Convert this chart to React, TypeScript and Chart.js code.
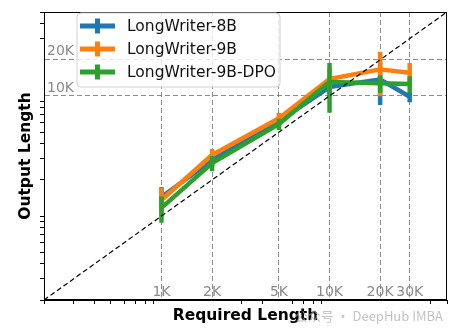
import React, { useEffect, useRef } from 'react';
import { Chart, registerables } from 'chart.js';

Chart.register(...registerables);

// ---------- data ----------
const requiredLengths = [1000, 2000, 5000, 10000, 20000, 30000];
const seriesNames = ['LongWriter-8B', 'LongWriter-9B', 'LongWriter-9B-DPO'];
const seriesColors = ['#1f77b4', '#ff7f0e', '#2ca02c'];

const lw8bMean = [1440, 2925, 6170, 11860, 13740, 9850];
const lw8bErr = [300, 350, 650, 2000, 5340, 1000];
const lw9bMean = [1360, 3220, 6530, 13830, 16640, 15600];
const lw9bErr = [350, 400, 700, 3000, 6700, 3200];
const lw9bDpoMean = [1170, 2760, 5830, 13050, 12730, 12570];
const lw9bDpoErr = [290, 400, 630, 5800, 2100, 2000];

const axisMin = 200;
const axisMax = 50000;
const diagonal = [200, 50000];

const xTickValues = [1000, 2000, 5000, 10000, 20000, 30000];
const xTickLabels = ['1K', '2K', '5K', '10K', '20K', '30K'];
const yTickValues = [10000, 20000];
const yTickLabels = ['10K', '20K'];
const minorTickValues = [
  200, 300, 400, 500, 600, 700, 800, 900,
  1000, 2000, 3000, 4000, 5000, 6000, 7000, 8000, 9000,
  10000, 20000, 30000, 40000, 50000,
];

const watermark = '公众号 · DeepHub IMBA';

// ---------- helpers ----------
function buildTicks(majors: number[]) {
  const set = new Set<number>([...minorTickValues, ...majors]);
  return Array.from(set).sort((a, b) => a - b).map((v) => ({ value: v }));
}

const GRID = 'rgba(120,120,120,0.85)';
const TICKTEXT = '#8a8a8a';

const errorBarPlugin = {
  id: 'errorBars',
  afterDatasetDraw(chart: any, args: any) {
    const ds = chart.data.datasets[args.index];
    if (!ds.errors) return;
    const { ctx, chartArea } = chart;
    const xs = chart.scales.x;
    const ys = chart.scales.y;
    ctx.save();
    ctx.beginPath();
    ctx.rect(chartArea.left, chartArea.top, chartArea.right - chartArea.left, chartArea.bottom - chartArea.top);
    ctx.clip();
    ctx.strokeStyle = ds.borderColor;
    ctx.lineWidth = 4.5;
    ctx.lineCap = 'butt';
    ds.data.forEach((p: any, i: number) => {
      const e = ds.errors[i];
      const px = xs.getPixelForValue(p.x);
      const top = ys.getPixelForValue(p.y + e);
      const bot = ys.getPixelForValue(Math.max(p.y - e, 1));
      ctx.beginPath();
      ctx.moveTo(px, top);
      ctx.lineTo(px, bot);
      ctx.stroke();
    });
    ctx.restore();
  },
};

const decorPlugin = {
  id: 'decor',
  afterDraw(chart: any) {
    const { ctx, chartArea } = chart;
    ctx.save();
    // spines
    ctx.strokeStyle = '#000';
    ctx.lineWidth = 1;
    ctx.strokeRect(
      Math.round(chartArea.left) + 0.5,
      Math.round(chartArea.top) + 0.5,
      Math.round(chartArea.right - chartArea.left) - 1,
      Math.round(chartArea.bottom - chartArea.top) - 1
    );

    // legend
    const lx = 77, ly = 13, lw = 203, lh = 74, r = 4;
    ctx.beginPath();
    ctx.moveTo(lx + r, ly);
    ctx.lineTo(lx + lw - r, ly);
    ctx.quadraticCurveTo(lx + lw, ly, lx + lw, ly + r);
    ctx.lineTo(lx + lw, ly + lh - r);
    ctx.quadraticCurveTo(lx + lw, ly + lh, lx + lw - r, ly + lh);
    ctx.lineTo(lx + r, ly + lh);
    ctx.quadraticCurveTo(lx, ly + lh, lx, ly + lh - r);
    ctx.lineTo(lx, ly + r);
    ctx.quadraticCurveTo(lx, ly, lx + r, ly);
    ctx.closePath();
    ctx.fillStyle = 'rgba(255,255,255,0.8)';
    ctx.fill();
    ctx.strokeStyle = '#d0d0d0';
    ctx.lineWidth = 1;
    ctx.stroke();

    ctx.font = '15.5px "DejaVu Sans"';
    ctx.textBaseline = 'middle';
    ctx.textAlign = 'left';
    seriesNames.forEach((name, i) => {
      const cy = 26 + i * 23;
      ctx.strokeStyle = seriesColors[i];
      ctx.lineWidth = 5;
      ctx.lineCap = 'butt';
      ctx.beginPath();
      ctx.moveTo(80, cy);
      ctx.lineTo(115, cy);
      ctx.stroke();
      ctx.beginPath();
      ctx.moveTo(97.5, cy - 7.5);
      ctx.lineTo(97.5, cy + 7.5);
      ctx.stroke();
      ctx.fillStyle = '#111';
      ctx.fillText(name, 127, cy + 0.5);
    });

    // watermark
    ctx.font = '13px "Noto Sans CJK SC", "Noto Sans"';
    ctx.fillStyle = 'rgba(170,170,170,0.7)';
    ctx.textAlign = 'right';
    ctx.textBaseline = 'middle';
    ctx.fillText(watermark, 443, 316);
    ctx.restore();
  },
};

export default function App() {
  const canvasRef = useRef<HTMLCanvasElement | null>(null);

  useEffect(() => {
    if (!canvasRef.current) return;
    Chart.defaults.font.family = '"DejaVu Sans", sans-serif';
    const toPts = (ys: number[]) => requiredLengths.map((x, i) => ({ x, y: ys[i] }));

    const chart = new Chart(canvasRef.current, {
      type: 'line',
      data: {
        datasets: [
          {
            label: 'diagonal',
            data: diagonal.map((v) => ({ x: v, y: v })),
            borderColor: '#000',
            borderWidth: 1.2,
            borderDash: [5, 3],
            pointRadius: 0,
            order: 0,
          },
          {
            label: seriesNames[0],
            data: toPts(lw8bMean),
            errors: lw8bErr,
            borderColor: seriesColors[0],
            borderWidth: 4.5,
            pointRadius: 0,
            order: 3,
          } as any,
          {
            label: seriesNames[1],
            data: toPts(lw9bMean),
            errors: lw9bErr,
            borderColor: seriesColors[1],
            borderWidth: 4.5,
            pointRadius: 0,
            order: 2,
          } as any,
          {
            label: seriesNames[2],
            data: toPts(lw9bDpoMean),
            errors: lw9bDpoErr,
            borderColor: seriesColors[2],
            borderWidth: 4.5,
            pointRadius: 0,
            order: 1,
          } as any,
        ],
      },
      options: {
        animation: false,
        responsive: false,
        layout: { padding: { top: 12, right: 10, left: 0, bottom: 0 } },
        plugins: { legend: { display: false }, tooltip: { enabled: false } },
        elements: { line: { tension: 0, borderJoinStyle: 'round', borderCapStyle: 'butt' } },
        scales: {
          x: {
            type: 'logarithmic',
            min: axisMin,
            max: axisMax,
            afterBuildTicks: (scale: any) => {
              scale.ticks = buildTicks(xTickValues);
            },
            afterFit: (scale: any) => {
              scale.height = 34;
            },
            ticks: {
              autoSkip: false,
              maxRotation: 0,
              minRotation: 0,
              mirror: true,
              padding: -1,
              color: TICKTEXT,
              font: { size: 14 },
              callback: (value: any) => {
                const i = xTickValues.indexOf(Number(value));
                return i >= 0 ? xTickLabels[i] : '';
              },
            },
            grid: {
              color: (c: any) => (c.tick && xTickValues.includes(c.tick.value) ? GRID : 'rgba(0,0,0,0)'),
              tickColor: (c: any) => (c.tick && xTickValues.includes(c.tick.value) ? 'rgba(0,0,0,0)' : '#000'),
              lineWidth: 1,
              tickLength: 4,
              tickWidth: 1,
              tickBorderDash: [],
            },
            border: { display: true, color: '#000', width: 1, dash: [5, 3] },
            title: {
              display: true,
              text: 'Required Length',
              color: '#000',
              font: { size: 15.5, weight: 'bold' },
              padding: { top: 0, bottom: 8.5 },
            },
          },
          y: {
            type: 'logarithmic',
            min: axisMin,
            max: axisMax,
            afterBuildTicks: (scale: any) => {
              scale.ticks = buildTicks(yTickValues);
            },
            afterFit: (scale: any) => {
              scale.width = 44;
            },
            ticks: {
              autoSkip: false,
              mirror: true,
              padding: 3,
              labelOffset: -8,
              color: TICKTEXT,
              font: { size: 14 },
              callback: (value: any) => {
                const i = yTickValues.indexOf(Number(value));
                return i >= 0 ? yTickLabels[i] : '';
              },
            },
            grid: {
              color: (c: any) => (c.tick && yTickValues.includes(c.tick.value) ? GRID : 'rgba(0,0,0,0)'),
              tickColor: (c: any) => (c.tick && yTickValues.includes(c.tick.value) ? 'rgba(0,0,0,0)' : '#000'),
              lineWidth: 1,
              tickLength: 4,
              tickWidth: 1,
              tickBorderDash: [],
            },
            border: { display: true, color: '#000', width: 1, dash: [5, 3] },
            title: {
              display: true,
              text: 'Output Length',
              color: '#000',
              font: { size: 15.5, weight: 'bold' },
              padding: { top: 16.5, bottom: 0 },
            },
          },
        },
      } as any,
      plugins: [errorBarPlugin, decorPlugin],
    });

    return () => chart.destroy();
  }, []);

  return (
    <div style={{ position: 'absolute', left: 0, top: 0, width: 457, height: 334 }}>
      <canvas ref={canvasRef} width={457} height={334} style={{ display: 'block' }} />
    </div>
  );
}
